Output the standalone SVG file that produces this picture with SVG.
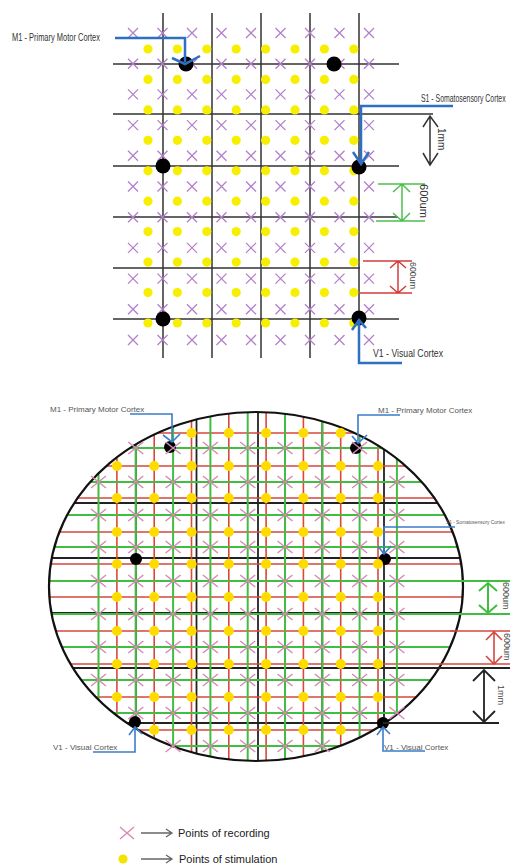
<svg xmlns="http://www.w3.org/2000/svg" width="512" height="866" viewBox="0 0 512 866">
<style>
text{font-family:"Liberation Sans",Arial,sans-serif}
.gl{stroke:#333;stroke-width:1.5;fill:none}
.xt{stroke:#b27fcb;stroke-width:1.3;fill:none}
.dt{fill:#f6f000}
.bk{fill:#000}
.bl{stroke:#2f6fc2;stroke-width:2.5;fill:none}
.bl2{stroke:#3d7cc9;stroke-width:1.6;fill:none}
.rl{stroke:#d9473f;stroke-width:1.6;fill:none}
.gr{stroke:#41bd41;stroke-width:2;fill:none}
.kl{stroke:#222;stroke-width:1.8;fill:none}
.xb{stroke:#d88bb6;stroke-width:1.5;fill:none}
.db{fill:#ffdc00}
.lb{font-size:10px;fill:#333}
.lb2{font-size:8px;fill:#555}
.dm{stroke-width:1.5;fill:none}
</style>
<defs>
<path id="xt" class="xt" d="M-5,-5L5,5M-5,5L5,-5"/>
<circle id="dt" class="dt" r="4.6"/>
<path id="xb" class="xb" d="M-7.5,-6L7.5,6M-7.5,6L7.5,-6"/>
<circle id="db" class="db" r="5"/>
<g id="xtrow"><use href="#xt" x="133"/><use href="#xt" x="162.5"/><use href="#xt" x="192"/><use href="#xt" x="221.5"/><use href="#xt" x="251"/><use href="#xt" x="280.5"/><use href="#xt" x="310"/><use href="#xt" x="339.5"/><use href="#xt" x="369"/></g>
<g id="dtrow"><use href="#dt" x="148"/><use href="#dt" x="177.4"/><use href="#dt" x="206.8"/><use href="#dt" x="236.2"/><use href="#dt" x="265.6"/><use href="#dt" x="295"/><use href="#dt" x="324.4"/><use href="#dt" x="353.8"/></g>
<g id="xbrow"><use href="#xb" x="98.5"/><use href="#xb" x="135.8"/><use href="#xb" x="173.1"/><use href="#xb" x="210.4"/><use href="#xb" x="247.7"/><use href="#xb" x="285"/><use href="#xb" x="322.3"/><use href="#xb" x="359.6"/><use href="#xb" x="396.9"/></g>
<g id="dbrow"><use href="#db" x="116.9"/><use href="#db" x="154.2"/><use href="#db" x="191.5"/><use href="#db" x="228.8"/><use href="#db" x="266.1"/><use href="#db" x="303.4"/><use href="#db" x="340.7"/><use href="#db" x="378"/></g>
<clipPath id="ec"><ellipse cx="256" cy="586.5" rx="207" ry="174.5"/></clipPath>
</defs>
<rect width="512" height="866" fill="#fff"/>

<!-- TOP GRID -->
<g id="top-grid">
<path class="gl" d="M113 64H399M113 114H433M113 166H399M113 217H398M113 268H360M113 319H399M163 13V358M212 13V358M261 13V358M310 13V358M359 13V358"/>
<use href="#xtrow" y="33"/><use href="#xtrow" y="63.7"/><use href="#xtrow" y="94.4"/><use href="#xtrow" y="125.1"/><use href="#xtrow" y="155.8"/><use href="#xtrow" y="186.5"/><use href="#xtrow" y="217.2"/><use href="#xtrow" y="247.9"/><use href="#xtrow" y="278.6"/><use href="#xtrow" y="309.3"/><use href="#xtrow" y="340"/>
<use href="#dtrow" y="49"/><use href="#dtrow" y="79.4"/><use href="#dtrow" y="109.9"/><use href="#dtrow" y="140.3"/><use href="#dtrow" y="170.8"/><use href="#dtrow" y="201.2"/><use href="#dtrow" y="231.6"/><use href="#dtrow" y="262.1"/><use href="#dtrow" y="292.5"/><use href="#dtrow" y="323"/>
</g>
<g id="top-m1"><circle class="bk" cx="186" cy="64" r="7.5"/><text class="lb" x="12" y="41" textLength="88" lengthAdjust="spacingAndGlyphs">M1 - Primary Motor Cortex</text></g>
<g id="top-m1b"><circle class="bk" cx="334" cy="64" r="7.5"/></g>
<g id="top-l"><circle class="bk" cx="163" cy="166" r="7.5"/></g>
<g id="top-s1"><circle class="bk" cx="359" cy="167" r="7.5"/><text class="lb" transform="matrix(0.69 0 0 1 421 102)">S1 - Somatosensory Cortex</text></g>
<g id="top-bl"><circle class="bk" cx="163" cy="319" r="7.5"/></g>
<g id="top-v1"><circle class="bk" cx="359" cy="318" r="7.5"/><text class="lb" x="373" y="357" textLength="70" lengthAdjust="spacingAndGlyphs">V1 - Visual Cortex</text></g>
<g id="top-dims">
<path class="dm" stroke="#333" d="M430 116V165M423 127L430 116L438 127M423 153L430 165L438 153"/>
<text class="lb" transform="translate(438 128) rotate(90)">1mm</text>
<path class="dm" stroke="#4cc04c" d="M378 184H425M376 221H425M402 185V220M393 192L402 184L410 192M393 213L402 221L410 213"/>
<text class="lb" fill="#444" transform="translate(420 184) rotate(90)" textLength="34" lengthAdjust="spacingAndGlyphs">600um</text>
<path class="dm" stroke="#d43c3c" d="M363 261H412M360 293H412M398 262V292M390 268L398 261L406 268M390 286L398 293L406 286"/>
<text font-size="9" fill="#444" transform="translate(410 262) rotate(90)" textLength="27" lengthAdjust="spacingAndGlyphs">600um</text>
</g>

<!-- BOTTOM ELLIPSE -->
<g id="bottom-grid">
<g clip-path="url(#ec)">
<path class="kl" d="M40 448H472M40 503H472M40 558H472M40 613H472M40 668H472M40 723H472M135.8 405V770M196.5 405V770M258 405V770M322.3 405V770M384 405V770"/>
<path class="rl" d="M40 433H472M40 466H472M40 498H472M40 532H472M40 564H472M40 597H472M40 631H472M40 664H472M40 697H472M40 730H472M116.9 405V770M154.2 405V770M191.5 405V770M228.8 405V770M266.1 405V770M303.4 405V770M340.7 405V770M378 405V770"/>
<path class="gr" d="M40 448H472M40 482H472M40 515H472M40 547H472M40 581H472M40 614H472M40 647H472M40 680H472M40 713H472M40 746H472M98.5 405V770M135.8 405V770M173.1 405V770M210.4 405V770M247.7 405V770M285 405V770M322.3 405V770M359.6 405V770M396.9 405V770"/>
</g>
<ellipse cx="256" cy="586.5" rx="207" ry="174.5" fill="none" stroke="#111" stroke-width="2.2"/>
<circle class="bk" cx="170" cy="447" r="6"/><circle class="bk" cx="356" cy="448" r="6"/><circle class="bk" cx="136" cy="559" r="6"/><circle class="bk" cx="385" cy="559" r="6"/><circle class="bk" cx="135" cy="722" r="6"/><circle class="bk" cx="383" cy="723" r="6"/>
<g><use href="#xb" x="135.8" y="448"/><use href="#xb" x="173.1" y="448"/><use href="#xb" x="210.4" y="448"/><use href="#xb" x="247.7" y="448"/><use href="#xb" x="285" y="448"/><use href="#xb" x="322.3" y="448"/><use href="#xb" x="359.6" y="448"/></g>
<use href="#xbrow" y="482"/><use href="#xbrow" y="515"/><use href="#xbrow" y="547"/><use href="#xbrow" y="581"/><use href="#xbrow" y="614"/><use href="#xbrow" y="647"/><use href="#xbrow" y="680"/>
<g><use href="#xb" x="135.8" y="713"/><use href="#xb" x="173.1" y="713"/><use href="#xb" x="210.4" y="713"/><use href="#xb" x="247.7" y="713"/><use href="#xb" x="285" y="713"/><use href="#xb" x="322.3" y="713"/><use href="#xb" x="359.6" y="713"/><use href="#xb" x="396.9" y="713"/></g>
<g><use href="#xb" x="173.1" y="746"/><use href="#xb" x="210.4" y="746"/><use href="#xb" x="247.7" y="746"/><use href="#xb" x="285" y="746"/><use href="#xb" x="322.3" y="746"/></g>
<g><use href="#db" x="191.5" y="433"/><use href="#db" x="228.8" y="433"/><use href="#db" x="266.1" y="433"/><use href="#db" x="303.4" y="433"/><use href="#db" x="340.7" y="433"/></g>
<use href="#dbrow" y="466"/><use href="#dbrow" y="498"/><use href="#dbrow" y="532"/><use href="#dbrow" y="564"/><use href="#dbrow" y="597"/><use href="#dbrow" y="631"/><use href="#dbrow" y="664"/><use href="#dbrow" y="697"/>
<g><use href="#db" x="154.2" y="730"/><use href="#db" x="191.5" y="730"/><use href="#db" x="228.8" y="730"/><use href="#db" x="266.1" y="730"/><use href="#db" x="303.4" y="730"/><use href="#db" x="340.7" y="730"/></g>
</g>
<g id="bot-labels">
<text id="bot-m1-left" class="lb2" x="50" y="412">M1 - Primary Motor Cortex</text>
<text id="bot-m1-right" class="lb2" x="378" y="413">M1 - Primary Motor Cortex</text>
<text id="bot-s1" font-size="6" fill="#555" transform="matrix(0.8 0 0 1 446 524)">S1 - Somatosensory Cortex</text>
<text id="bot-v1-left" class="lb2" x="53" y="750">V1 - Visual Cortex</text>
<text id="bot-v1-right" class="lb2" x="384" y="750">V1 - Visual Cortex</text>
</g>
<g id="bot-dims">
<path class="gr" stroke-width="1.5" d="M456 581H510M450 614H510M488 583V612M479 591L488 583L497 591M479 605L488 613L497 605"/>
<text font-size="9" fill="#444" transform="translate(503 582) rotate(90)">600um</text>
<path class="rl" stroke-width="1.5" d="M450 631H510M440 664H510M494 632V663M486 640L494 632L502 640M486 656L494 664L502 656"/>
<text font-size="9" fill="#444" transform="translate(504 633) rotate(90)">600um</text>
<path class="kl" d="M436 668H510M383 723H499M484 670V722M473 681L484 670L495 681M473 711L484 722L495 711"/>
<text font-size="9" fill="#444" transform="translate(498 685) rotate(90)">1mm</text>
</g>

<!-- CONNECTORS -->
<g id="connectors">
<path class="bl" d="M115 38H185V62M172 58L185 64L200 56"/>
<path class="bl" d="M453 106H361V163M353 152L361 164L369 152"/>
<path class="bl" d="M359 321V363H402M352 330L359 320L366 328"/>
<path class="bl2" d="M130 414H172V441M163 435L172 442L180 434"/>
<path class="bl2" d="M400 415H358V441M352 436L358 443L367 435"/>
<path class="bl2" d="M455 527H384V554M378 546L384 554L391 546"/>
<path class="bl2" d="M93 752H135V728M129 735L135 727L142 734"/>
<path class="bl2" d="M383 728V751H425M377 735L383 727L390 734"/>
</g>

<!-- LEGEND -->
<g id="legend-recording">
<path class="xb" d="M120 827L134 839M120 839L134 827"/>
<path stroke="#666" stroke-width="1.3" fill="none" d="M141 833H172M166 829L172 833L166 837"/>
<text x="178" y="837" font-size="11" fill="#222">Points of recording</text>
</g>
<g id="legend-stimulation">
<circle cx="123" cy="859" r="4.6" fill="#f2e400"/>
<path stroke="#666" stroke-width="1.3" fill="none" d="M141 859H172M166 855L172 859L166 863"/>
<text x="179" y="863" font-size="11" fill="#222">Points of stimulation</text>
</g>
</svg>
